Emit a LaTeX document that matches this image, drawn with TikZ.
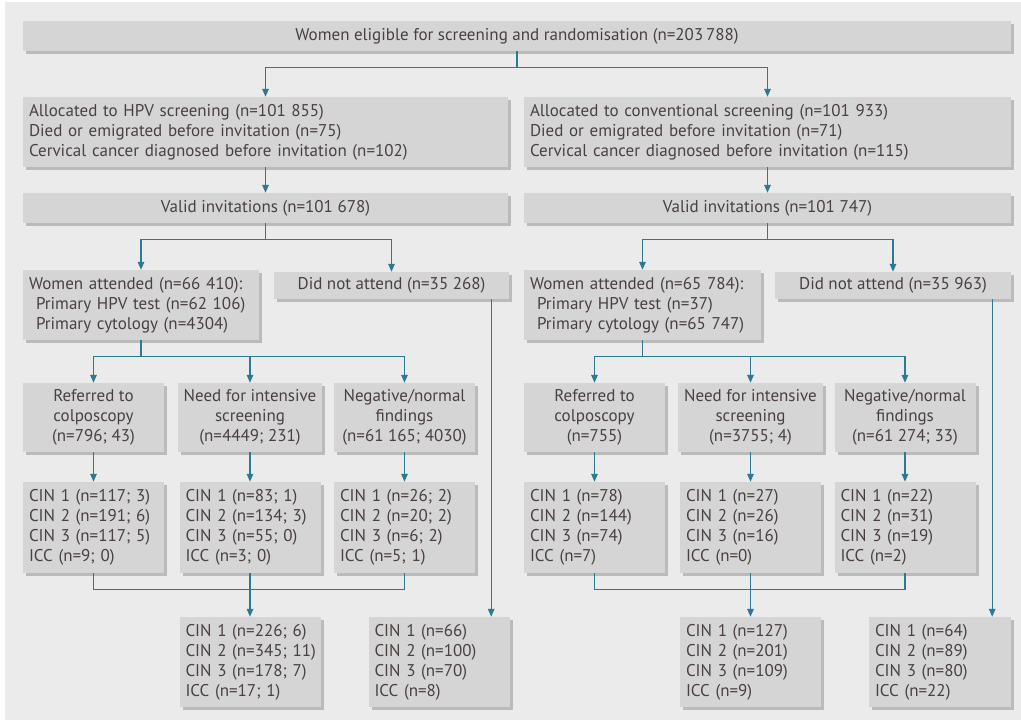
\documentclass[tikz,border=0pt]{standalone}
\usepackage{fontspec}
\setmainfont{PT Sans}
\usetikzlibrary{arrows.meta,shadows}
\definecolor{bggray}{HTML}{EBEBEB}
\definecolor{boxgray}{HTML}{D5D5D5}
\definecolor{shadowgray}{HTML}{BBBBBB}
\definecolor{txt}{HTML}{4A4040}
\definecolor{arrowcol}{HTML}{2B7A92}
\begin{document}
\begin{tikzpicture}[x=1pt,y=-1pt,
  box/.style={fill=boxgray, draw=none, text=txt, inner xsep=6pt, inner ysep=0pt,
    font=\fontsize{17}{20}\selectfont,
    drop shadow={shadow xshift=3pt, shadow yshift=-3pt, fill=shadowgray, opacity=1}},
  lbox/.style={box, align=left},
  cbox/.style={box, align=center},
  conn/.style={draw=arrowcol, line width=1.4pt},
  arr/.style={conn, -{Triangle[length=8pt,width=6.5pt]}}
]
\useasboundingbox (0,0) rectangle (1021,720);
\fill[white] (0,0) rectangle (1021,720);
\fill[bggray] (5,2) rectangle (1021,720);

% top
\node[cbox, minimum width=988pt, minimum height=30pt] (top) at (517,36)
  {Women eligible for screening and randomisation (n=203\,788)};

% allocated
\node[lbox, text width=473pt, minimum height=70pt] (allocL) at (265.5,132)
  {Allocated to HPV screening (n=101 855)\\Died or emigrated before invitation (n=75)\\Cervical cancer diagnosed before invitation (n=102)};
\node[lbox, text width=475pt, minimum height=70pt] (allocR) at (767.5,132)
  {Allocated to conventional screening (n=101 933)\\Died or emigrated before invitation (n=71)\\Cervical cancer diagnosed before invitation (n=115)};

% valid invitations
\node[cbox, minimum width=485pt, minimum height=30pt] (validL) at (265.5,208)
  {Valid invitations (n=101 678)};
\node[cbox, minimum width=487pt, minimum height=30pt] (validR) at (767.5,208)
  {Valid invitations (n=101 747)};

% attended / not attended
\node[lbox, text width=224pt, minimum height=70pt] (attL) at (141,305)
  {Women attended (n=66 410):\\\hspace*{7pt}Primary HPV test (n=62 106)\\\hspace*{7pt}Primary cytology (n=4304)};
\node[cbox, minimum width=235pt, minimum height=27pt] (dnaL) at (391.5,285.5)
  {Did not attend (n=35 268)};
\node[lbox, text width=225pt, minimum height=70pt] (attR) at (642.5,305)
  {Women attended (n=65 784):\\\hspace*{7pt}Primary HPV test (n=37)\\\hspace*{7pt}Primary cytology (n=65 747)};
\node[cbox, minimum width=236pt, minimum height=27pt] (dnaR) at (893,285.5)
  {Did not attend (n=35 963)};

% row 3 left
\node[cbox, minimum width=141pt, minimum height=69pt] (refL) at (93.5,417.5)
  {Referred to\\colposcopy\\(n=796; 43)};
\node[cbox, minimum width=141pt, minimum height=69pt] (intL) at (250,417.5)
  {Need for intensive\\screening\\(n=4449; 231)};
\node[cbox, minimum width=141pt, minimum height=69pt] (negL) at (404.5,417.5)
  {Negative/normal\\findings\\(n=61 165; 4030)};
% row 3 right
\node[cbox, minimum width=141pt, minimum height=69pt] (refR) at (594.5,417.5)
  {Referred to\\colposcopy\\(n=755)};
\node[cbox, minimum width=141pt, minimum height=69pt] (intR) at (750.5,417.5)
  {Need for intensive\\screening\\(n=3755; 4)};
\node[cbox, minimum width=141pt, minimum height=69pt] (negR) at (905,417.5)
  {Negative/normal\\findings\\(n=61 274; 33)};

% row 4 left
\node[lbox, text width=129pt, minimum height=91pt] (cinRefL) at (93.5,527.5)
  {CIN 1 (n=117; 3)\\CIN 2 (n=191; 6)\\CIN 3 (n=117; 5)\\ICC (n=9; 0)};
\node[lbox, text width=129pt, minimum height=91pt] (cinIntL) at (250,527.5)
  {CIN 1 (n=83; 1)\\CIN 2 (n=134; 3)\\CIN 3 (n=55; 0)\\ICC (n=3; 0)};
\node[lbox, text width=129pt, minimum height=91pt] (cinNegL) at (404.5,527.5)
  {CIN 1 (n=26; 2)\\CIN 2 (n=20; 2)\\CIN 3 (n=6; 2)\\ICC (n=5; 1)};
% row 4 right
\node[lbox, text width=129pt, minimum height=91pt] (cinRefR) at (594.5,527.5)
  {CIN 1 (n=78)\\CIN 2 (n=144)\\CIN 3 (n=74)\\ICC (n=7)};
\node[lbox, text width=129pt, minimum height=91pt] (cinIntR) at (750.5,527.5)
  {CIN 1 (n=27)\\CIN 2 (n=26)\\CIN 3 (n=16)\\ICC (n=0)};
\node[lbox, text width=129pt, minimum height=91pt] (cinNegR) at (905,527.5)
  {CIN 1 (n=22)\\CIN 2 (n=31)\\CIN 3 (n=19)\\ICC (n=2)};

% bottom
\node[lbox, text width=129pt, minimum height=90pt] (totL) at (250,662)
  {CIN 1 (n=226; 6)\\\mbox{CIN 2 (n=345; 11)}\\CIN 3 (n=178; 7)\\ICC (n=17; 1)};
\node[lbox, text width=129pt, minimum height=90pt] (dnaCinL) at (439,662)
  {CIN 1 (n=66)\\CIN 2 (n=100)\\CIN 3 (n=70)\\ICC (n=8)};
\node[lbox, text width=129pt, minimum height=90pt] (totR) at (750.5,662)
  {CIN 1 (n=127)\\CIN 2 (n=201)\\CIN 3 (n=109)\\ICC (n=9)};
\node[lbox, text width=130pt, minimum height=90pt] (dnaCinR) at (940,662)
  {CIN 1 (n=64)\\CIN 2 (n=89)\\CIN 3 (n=80)\\ICC (n=22)};

% connectors
\draw[arr] (top.south) -- ++(0,16) -| (allocL.north);
\draw[arr] (top.south) -- ++(0,16) -| (allocR.north);
\draw[arr] (allocL.south) -- (validL.north);
\draw[arr] (allocR.south) -- (validR.north);

\draw[arr] (validL.south) -- ++(0,16) -| (attL.north);
\draw[arr] (validL.south) -- ++(0,16) -| (dnaL.north);
\draw[arr] (validR.south) -- ++(0,16) -| (attR.north);
\draw[arr] (validR.south) -- ++(0,16) -| (dnaR.north);

\draw[arr] (attL.south) -- ++(0,16) -| (refL.north);
\draw[arr] (attL.south) -- ++(0,16) -| (intL.north);
\draw[arr] (attL.south) -- ++(0,16) -| (negL.north);
\draw[arr] (attR.south) -- ++(0,16) -| (refR.north);
\draw[arr] (attR.south) -- ++(0,16) -| (intR.north);
\draw[arr] (attR.south) -- ++(0,16) -| (negR.north);

\draw[arr] (refL.south) -- (cinRefL.north);
\draw[arr] (intL.south) -- (cinIntL.north);
\draw[arr] (negL.south) -- (cinNegL.north);
\draw[arr] (refR.south) -- (cinRefR.north);
\draw[arr] (intR.south) -- (cinIntR.north);
\draw[arr] (negR.south) -- (cinNegR.north);

\draw[conn] (cinRefL.south) -- ++(0,16) -| (cinNegL.south);
\draw[arr] (cinIntL.south) -- (totL.north);
\draw[conn] (cinRefR.south) -- ++(0,16) -| (cinNegR.south);
\draw[arr] (cinIntR.south) -- (totR.north);

\draw[arr] ([xshift=-18pt]dnaL.south east) -- ([xshift=-18pt]dnaL.south east |- dnaCinL.north);
\draw[arr] ([xshift=-19pt]dnaR.south east) -- ([xshift=-19pt]dnaR.south east |- dnaCinR.north);
\end{tikzpicture}
\end{document}
